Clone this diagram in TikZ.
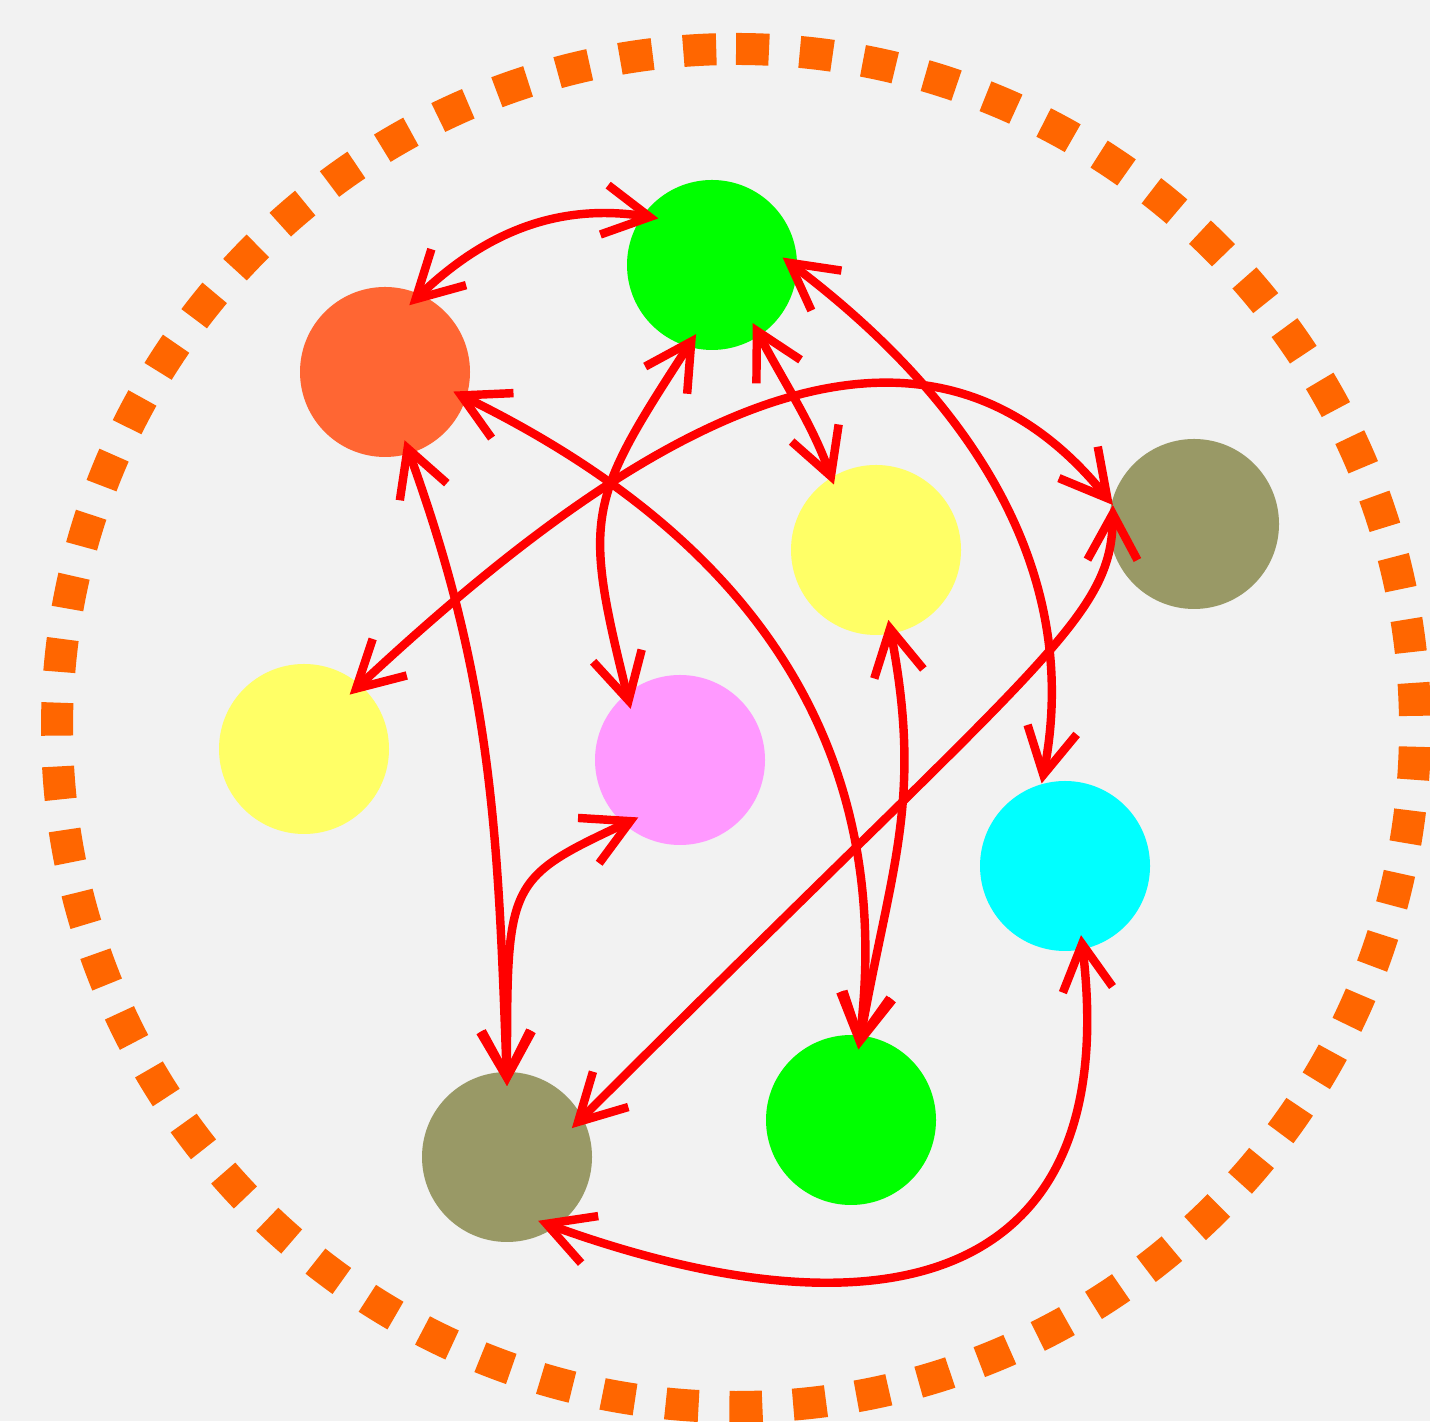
\documentclass[tikz,border=0pt]{standalone}
\usetikzlibrary{arrows.meta}
\definecolor{cBg}{HTML}{F2F2F2}
\definecolor{cRing}{HTML}{FF6600}
\definecolor{cCoral}{HTML}{FF6633}
\definecolor{cLime}{HTML}{00FF00}
\definecolor{cLemon}{HTML}{FFFF66}
\definecolor{cDrab}{HTML}{999966}
\definecolor{cPink}{HTML}{FF99FF}
\definecolor{cAqua}{HTML}{00FFFF}
\begin{document}
\begin{tikzpicture}[
  >={Straight Barb[length=4.6mm,width=5mm,line cap=butt,line join=miter]},
  ball/.style={circle, minimum size=1.7cm, inner sep=0pt, outer sep=-0.14cm},
  link/.style={<->, red, line width=2.4pt}
]
  \useasboundingbox (0,0) rectangle (14.30,14.21);
  \fill[cBg] (0,0) rectangle (14.30,14.21);

  % dashed ring
  \coordinate (hub) at (7.36,6.93);
  \draw[cRing, line width=0.32cm, dash pattern=on 0.33cm off 0.3085cm]
    (hub) ++(90:6.79) arc[start angle=90, end angle=-270, radius=6.79];

  % balls
  \node[ball, fill=cCoral] (coral) at (3.85,10.49) {};
  \node[ball, fill=cLime] (limetop) at (7.12,11.56) {};
  \node[ball, fill=cLemon] (lemon) at (8.76,8.71) {};
  \node[ball, fill=cDrab] (drabtop) at (11.94,8.97) {};
  \node[ball, fill=cLemon] (lemonleft) at (3.04,6.72) {};
  \node[ball, fill=cPink] (pinkball) at (6.80,6.61) {};
  \node[ball, fill=cAqua] (aqua) at (10.65,5.55) {};
  \node[ball, fill=cLime] (limelow) at (8.51,3.01) {};
  \node[ball, fill=cDrab] (drablow) at (5.07,2.64) {};

  % links
  \draw[link] (coral.70) to[out=44,in=171] (limetop.139);
  \draw[link] (coral.-74) to[out=-70,in=92] (drablow.90);
  \draw[link] (pinkball.234) to[out=205,in=90,out looseness=1.25,in looseness=1.75] (drablow.90);
  \draw[link] (coral.-16) to[out=-26,in=83,looseness=1.05] (limelow.84);
  \draw[link] (limetop.257) to[out=237,in=104,looseness=1.35] (pinkball.134);
  \draw[link, shorten >=0.07cm] (limetop.-55) to[out=-62,in=110] (lemon.124);
  \draw[link, shorten >=0.17cm] (limetop.6) to[out=-37,in=79] (aqua.112);
  \draw[link] (lemonleft.50) to[out=43,in=129,looseness=1.1] ([xshift=-0.12cm,yshift=0.03cm]drabtop.167);
  \draw[link] ([xshift=-0.12cm,yshift=0.03cm]drabtop.167) .. controls (11.12,8.01) and (10.40,7.61) .. (drablow.24);
  \draw[link] (lemon.-80) to[out=-79,in=80,looseness=1.1] (limelow.84);
  \draw[link] (aqua.-77) to[out=-83,in=-20,looseness=1.5] (drablow.-64);
\end{tikzpicture}
\end{document}
